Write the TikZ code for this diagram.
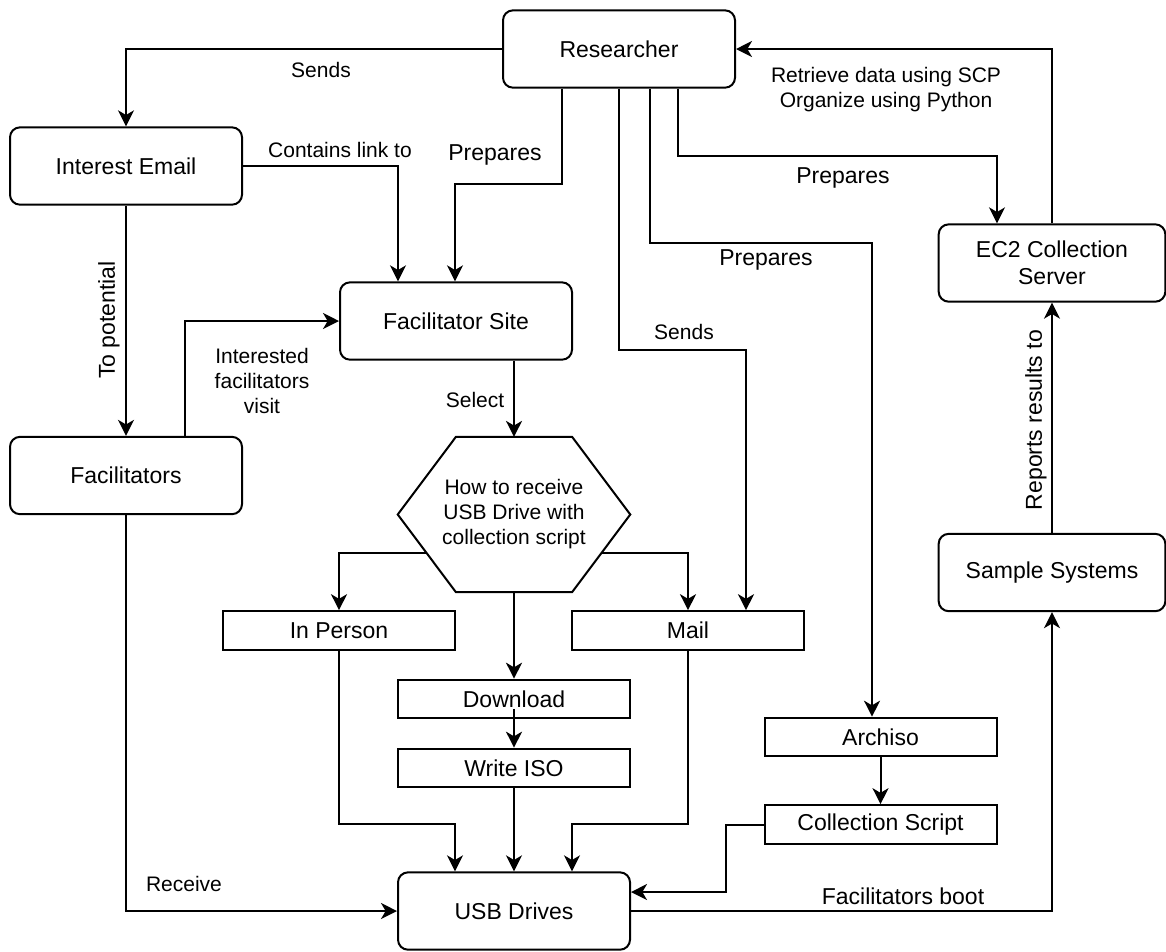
\documentclass[tikz,border=0pt]{standalone}
\usepackage{fontspec}
\setmainfont{Liberation Sans}
\usetikzlibrary{arrows.meta, positioning, calc}

\newcommand{\bigtxt}{\fontsize{17.25}{20.25}\selectfont}
\newcommand{\smalltxt}{\fontsize{15.75}{18.75}\selectfont}

\begin{document}
\begin{tikzpicture}[
                x=0.75pt, y=-0.75pt,
                block/.style={draw, line width=1.5pt, rounded corners=7.5pt, minimum width=174pt, minimum height=58pt, inner sep=0pt, align=center, font=\bigtxt},
                rectbox/.style={draw, line width=1.5pt, minimum width=174pt, minimum height=29pt, inner sep=0pt, font=\bigtxt},
                arrow/.style={-{Stealth[length=12pt, width=12pt, inset=3.5pt]}, line width=1.5pt},
                lbl/.style={font=\smalltxt, align=center, inner sep=0pt},
                lblbig/.style={font=\bigtxt, align=center, inner sep=0pt}
            ]
                \useasboundingbox (0,0) rectangle (1166,951);

                % Main actors
                \node[block] (researcher) at (619,49) {Researcher};
                \node[block] (email) at (126,166) {Interest Email};
                \node[block] (site) at (456,321) {Facilitator Site};
                \node[block] (facil) at (126,475.5) {Facilitators};
                \node[block, minimum width=170pt] (ec2) at (1052,263) {EC2 Collection\\Server};
                \node[block, minimum width=170pt] (sample) at (1052,572.5) {Sample Systems};
                \node[block] (usb) at (514,911) {USB Drives};

                % Choice
                \node[lbl, minimum width=174pt, minimum height=116pt] (hexq) at (514,514.5) {How to receive\\USB Drive with\\collection script};
                \coordinate (hextl) at ($(hexq.north west)!0.25!(hexq.north east)$);
                \coordinate (hextr) at ($(hexq.north west)!0.75!(hexq.north east)$);
                \coordinate (hexbl) at ($(hexq.south west)!0.25!(hexq.south east)$);
                \coordinate (hexbr) at ($(hexq.south west)!0.75!(hexq.south east)$);
                \draw[line width=1.5pt] (hexq.west) -- (hextl) -- (hextr) -- (hexq.east) -- (hexbr) -- (hexbl) -- cycle;
                \coordinate (hexll) at ($(hexq.west)!0.5!(hexbl)$);
                \coordinate (hexlr) at ($(hexq.east)!0.5!(hexbr)$);

                % Steps
                \node[rectbox] (inperson) at (339,630.5) {In Person};
                \node[rectbox] (mail) at (688,630.5) {Mail};
                \node[rectbox] (download) at (514,699) {Download};
                \node[rectbox] (writeiso) at (514,768) {Write ISO};
                \node[rectbox] (archiso) at (880.5,737) {Archiso};
                \node[rectbox] (cscript) at (880.5,824.5) {Collection Script};

                % Researcher outputs
                \draw[arrow] (researcher.west) -| (email.north);
                \draw[arrow] (researcher.south -| 562,0) -- (562,184) -| (site.north -| 455,0);
                \draw[arrow] (researcher.south) -- (619,350) -| (mail.north -| 746,0);
                \draw[arrow] (researcher.south -| 650,0) -- (650,243) -| (archiso.north -| 872,0);
                \draw[arrow] (researcher.south -| 678,0) -- (678,156) -| (ec2.north -| 997,0);
                \draw[arrow] (ec2.north) |- (researcher.east);

                % Facilitator side
                \draw[arrow] (email.east) -| (site.north -| 398,0);
                \draw[arrow] (email.south) -- (facil.north);
                \draw[arrow] (facil.north -| 185,0) |- (site.west);
                \draw[arrow] (site.south -| hexq.north) -- (hexq.north);
                \draw[arrow] (facil.south) |- (usb.west);

                % Delivery
                \draw[arrow] (hexll) -| (inperson.north);
                \draw[arrow] (hexlr) -| (mail.north);
                \draw[arrow] (hexq.south) -- (download.north);
                \draw[arrow] ([yshift=7.5pt]download.south) -- (writeiso.north);
                \draw[arrow] (inperson.south) -- (339,823.5) -| (usb.north -| 455,0);
                \draw[arrow] (writeiso.south) -- (usb.north);
                \draw[arrow] (mail.south) -- (688,823.5) -| (usb.north -| 572,0);
                \draw[arrow] (archiso.south) -- (cscript.north);
                \draw[arrow] (cscript.west) -- (726,824.5) |- (usb.east |- 0,892);

                % Reporting
                \draw[arrow] (usb.east) -| (sample.south);
                \draw[arrow] (sample.north) -- (ec2.south);

                % Edge labels
                \node[lbl] (lsends) at (321,70) {Sends};
                \node[lbl] (llink) at (340,150) {Contains link to};
                \node[lblbig] (lprep1) at (495,155) {Prepares};
                \node[lblbig, rotate=90] (lpot) at (109,320) {To potential};
                \node[lbl] (lvisit) at (262,381) {Interested\\facilitators\\visit};
                \node[lbl] (lselect) at (475,400) {Select};
                \node[lbl] (lretr) at (886,89.5) {Retrieve data using SCP\\Organize using Python};
                \node[lblbig] (lprep2) at (843,178) {Prepares};
                \node[lblbig] (lprep3) at (766,260) {Prepares};
                \node[lbl] (lsends2) at (684,332) {Sends};
                \node[lblbig, rotate=90] (lrep) at (1036,420) {Reports results to};
                \node[lbl] (lrecv) at (184,884) {Receive};
                \node[lblbig] (lboot) at (903,896) {Facilitators boot};
            \end{tikzpicture}
\end{document}
